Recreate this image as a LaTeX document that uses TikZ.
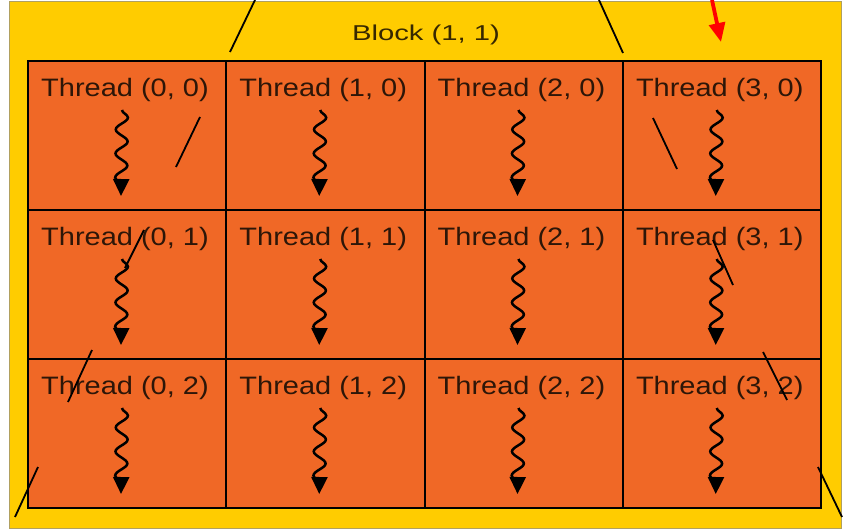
\documentclass[tikz,border=0pt]{standalone}
\usepackage{fontspec}
\setmainfont{Liberation Sans}
\newfontfamily\thrfont[FakeStretch=1.15]{Liberation Sans}
\newfontfamily\blkfont[FakeStretch=1.36]{Liberation Sans}
\usetikzlibrary{arrows.meta,decorations.pathmorphing}
\definecolor{blockyellow}{RGB}{255,204,0}
\definecolor{cellorange}{RGB}{240,104,38}
\definecolor{rimgrey}{RGB}{176,160,96}
\definecolor{txtdark}{RGB}{45,22,8}
\definecolor{blktxt}{RGB}{55,40,0}
\definecolor{arrowred}{RGB}{255,0,0}
\tikzset{
  blockbox/.style={draw=rimgrey, line width=1pt, fill=blockyellow, minimum width=832pt, minimum height=526pt, inner sep=0pt},
  cellbox/.style={draw=black, line width=2pt, fill=cellorange, minimum width=198.25pt, minimum height=149pt, inner sep=0pt},
  gridframe/.style={draw=black, line width=2.5pt},
  threadlabel/.style={text=txtdark, inner sep=0pt, anchor=base, font=\thrfont\fontsize{25.2}{30}\selectfont},
  blocklabel/.style={text=blktxt, inner sep=0pt, anchor=base, font=\blkfont\fontsize{21.5}{26}\selectfont},
  wavy/.style={draw=black, line width=2.5pt, decorate, decoration={snake, amplitude=6pt, segment length=24pt, post length=7pt}, -{Triangle[width=16pt,length=17pt]}},
  strayline/.style={draw=black, line width=1.8pt},
  redarrow/.style={draw=arrowred, line width=3.8pt, -{Triangle[width=16pt,length=19pt]}}
}
\begin{document}
\begin{tikzpicture}[x=1pt,y=-1pt]
\useasboundingbox (0,0) rectangle (846,532);
\fill[white] (0,0) rectangle (846,532);
\node[blockbox] (block) at (425,265) {};
\node[blocklabel] (blocklbl) at (426,40.7) {Block (1, 1)};
\foreach \i in {0,...,3}{
  \foreach \j in {0,...,2}{
    \pgfmathsetmacro\lx{28+198.25*\i}
    \pgfmathsetmacro\ty{61+149*\j}
    \node[cellbox] (c\i\j) at (\lx+99.125,\ty+74.5) {};
  }
}
\draw[gridframe] (28,61) rectangle (821,508);
\foreach \i in {0,...,3}{
  \foreach \j in {0,...,2}{
    \pgfmathsetmacro\lx{28+198.25*\i}
    \pgfmathsetmacro\ty{61+149*\j}
    \node[threadlabel] (t\i\j) at (\lx+97,\ty+35.7) {Thread (\i, \j)};
    \coordinate (s\i\j) at (\lx+94,\ty+49);
    \coordinate (e\i\j) at (\lx+93,\ty+135);
    \draw[wavy] (s\i\j) -- (e\i\j);
  }
}
% stray slanted strokes
\draw[strayline] (230,52) -- (255,0);
\draw[strayline] (599,0) -- (623,53);
\draw[strayline] (200,117) -- (176,167);
\draw[strayline] (653,118) -- (677,169);
\draw[strayline] (144,230) -- (125,268);
\draw[strayline] (713,240) -- (733,285);
\draw[strayline] (92,350) -- (68,402);
\draw[strayline] (763,352) -- (787,400);
\draw[strayline] (38,467) -- (15,517);
\draw[strayline] (818,467) -- (842,517);
% red arrow
\coordinate (ra) at (712,0);
\coordinate (rb) at (721,42);
\draw[redarrow] (ra) -- (rb);
\end{tikzpicture}
\end{document}
